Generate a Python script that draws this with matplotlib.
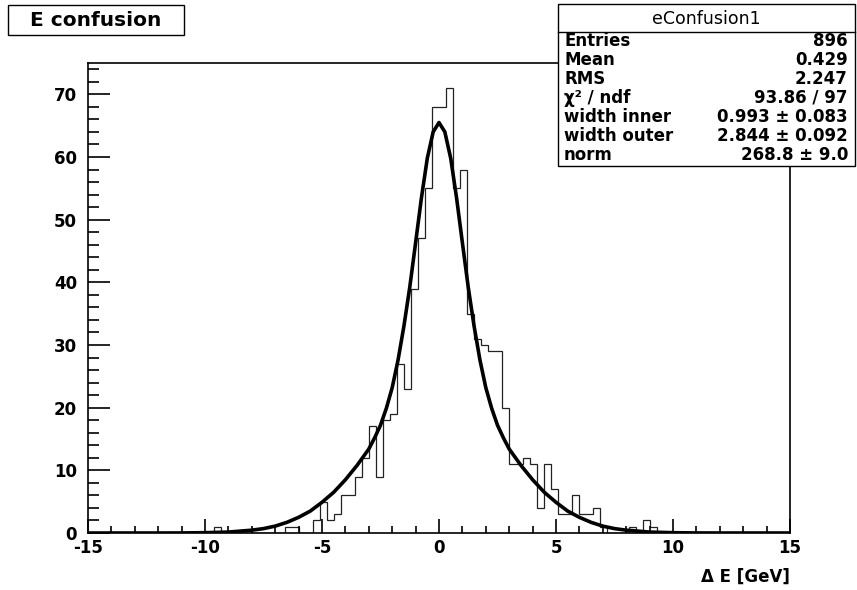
import numpy as np
import matplotlib
matplotlib.use("Agg")
import matplotlib.pyplot as plt
from matplotlib.patches import Rectangle
from matplotlib.ticker import MultipleLocator

# histogram: 100 bins from -15 to 15 GeV
x_lo, x_hi, n_bins = -15.0, 15.0, 100
counts = [0] * 18 + [1] + [0] * 9 + [1, 1, 0, 0,
          2, 5, 2, 3, 6, 6, 9, 12, 17, 9,
          18, 19, 27, 23, 39, 47, 55, 68, 68, 71,
          55, 58, 35, 31, 30, 29, 29, 20, 11, 11,
          12, 11, 4, 11, 7, 3, 3, 6, 3, 3,
          4, 1, 0, 0, 0, 1, 0, 2, 1] + [0] * 19

# fitted curve
fit_x = [-15, -12, -11, -10, -9, -8, -7.5, -7, -6.5, -6, -5.5, -5, -4.5, -4, -3.5,
         -3, -2.75, -2.5, -2.25, -2, -1.75, -1.5, -1.25, -1, -0.75, -0.5, -0.25, 0,
         0.25, 0.5, 0.75, 1, 1.25, 1.5, 1.75, 2, 2.25, 2.5, 2.75, 3,
         3.5, 4, 4.5, 5, 5.5, 6, 6.5, 7, 7.5, 8, 9, 10, 11, 12, 15]
fit_y = [0, 0, 0.01, 0.05, 0.15, 0.45, 0.7, 1.1, 1.7, 2.5, 3.5, 4.9, 6.5, 8.5, 10.8,
         13.4, 15.2, 17.2, 19.9, 23.2, 27.6, 33.0, 39.2, 46.3, 53.5, 59.8, 64.0, 65.5,
         64.0, 59.8, 53.5, 46.3, 39.2, 33.0, 27.6, 23.2, 19.9, 17.2, 15.2, 13.4,
         10.8, 8.5, 6.5, 4.9, 3.5, 2.5, 1.7, 1.1, 0.7, 0.45, 0.15, 0.05, 0.01, 0, 0]

stat_names = ["Entries", "Mean", "RMS", "\u03c7\u00b2 / ndf", "width inner", "width outer", "norm"]
stat_values = ["896", "0.429", "2.247", "93.86 / 97", "0.993 \u00b1 0.083",
               "2.844 \u00b1 0.092", "268.8 \u00b1 9.0"]

W, H = 857, 590
plt.rcParams['font.family'] = ['DejaVu Sans']
plt.rcParams['font.weight'] = 'bold'
plt.rcParams['axes.unicode_minus'] = False

def fx(px):
    return px / W

def fy(py):
    return 1 - py / H

fig = plt.figure(figsize=(W / 100, H / 100), dpi=100)
ax = fig.add_axes([fx(88), fy(533), (790 - 88) / W, (533 - 63) / H])

edges = np.linspace(x_lo, x_hi, n_bins + 1)
ax.stairs(counts, edges, color='#222222', linewidth=0.9)
ax.plot(fit_x, fit_y, color='black', linewidth=2.6, solid_joinstyle='round')

ax.set_xlim(x_lo, x_hi)
ax.set_ylim(0, 75)
ax.xaxis.set_major_locator(MultipleLocator(5))
ax.xaxis.set_minor_locator(MultipleLocator(1))
ax.yaxis.set_major_locator(MultipleLocator(10))
ax.yaxis.set_minor_locator(MultipleLocator(2))
ax.xaxis.set_tick_params(which='major', direction='in', length=10, width=1.2, pad=4, labelsize=12)
ax.xaxis.set_tick_params(which='minor', direction='in', length=5, width=1.2)
ax.yaxis.set_tick_params(which='major', direction='in', length=15.5, width=1.2, pad=8, labelsize=12)
ax.yaxis.set_tick_params(which='minor', direction='in', length=8, width=1.2)
for lab in ax.get_xticklabels() + ax.get_yticklabels():
    lab.set_fontweight('bold')
for sp in ax.spines.values():
    sp.set_linewidth(1.2)

fig.text(fx(790), fy(577), "Δ E [GeV]", ha='right', va='center', fontsize=12, fontweight='bold')

# title box
fig.patches.append(Rectangle((fx(8), fy(35)), (184 - 8) / W, 30 / H, transform=fig.transFigure,
                             facecolor='white', edgecolor='black', linewidth=1.0))
fig.text(fx(96), fy(20), "E confusion", ha='center', va='center', fontsize=14.5, fontweight='bold')

# stats box
sb = Rectangle((fx(558), fy(166)), (855 - 558) / W, (166 - 4) / H, transform=fig.transFigure,
               facecolor='white', edgecolor='black', linewidth=1.0, zorder=5)
fig.add_artist(sb)
line = plt.Line2D([fx(558), fx(855)], [fy(32), fy(32)], transform=fig.transFigure,
                  color='black', linewidth=1.0, zorder=6)
fig.add_artist(line)
fig.text(fx(706), fy(19), "eConfusion1", ha='center', va='center', fontsize=12.5,
         fontweight='normal', zorder=7)
for i, (nm, val) in enumerate(zip(stat_names, stat_values)):
    yy = fy(46 + 19 * i)
    fig.text(fx(564), yy, nm, ha='left', va='baseline', fontsize=12, fontweight='bold', zorder=7)
    fig.text(fx(848), yy, val, ha='right', va='baseline', fontsize=12, fontweight='bold', zorder=7)

fig.savefig("out.png", dpi=100, facecolor='white')
